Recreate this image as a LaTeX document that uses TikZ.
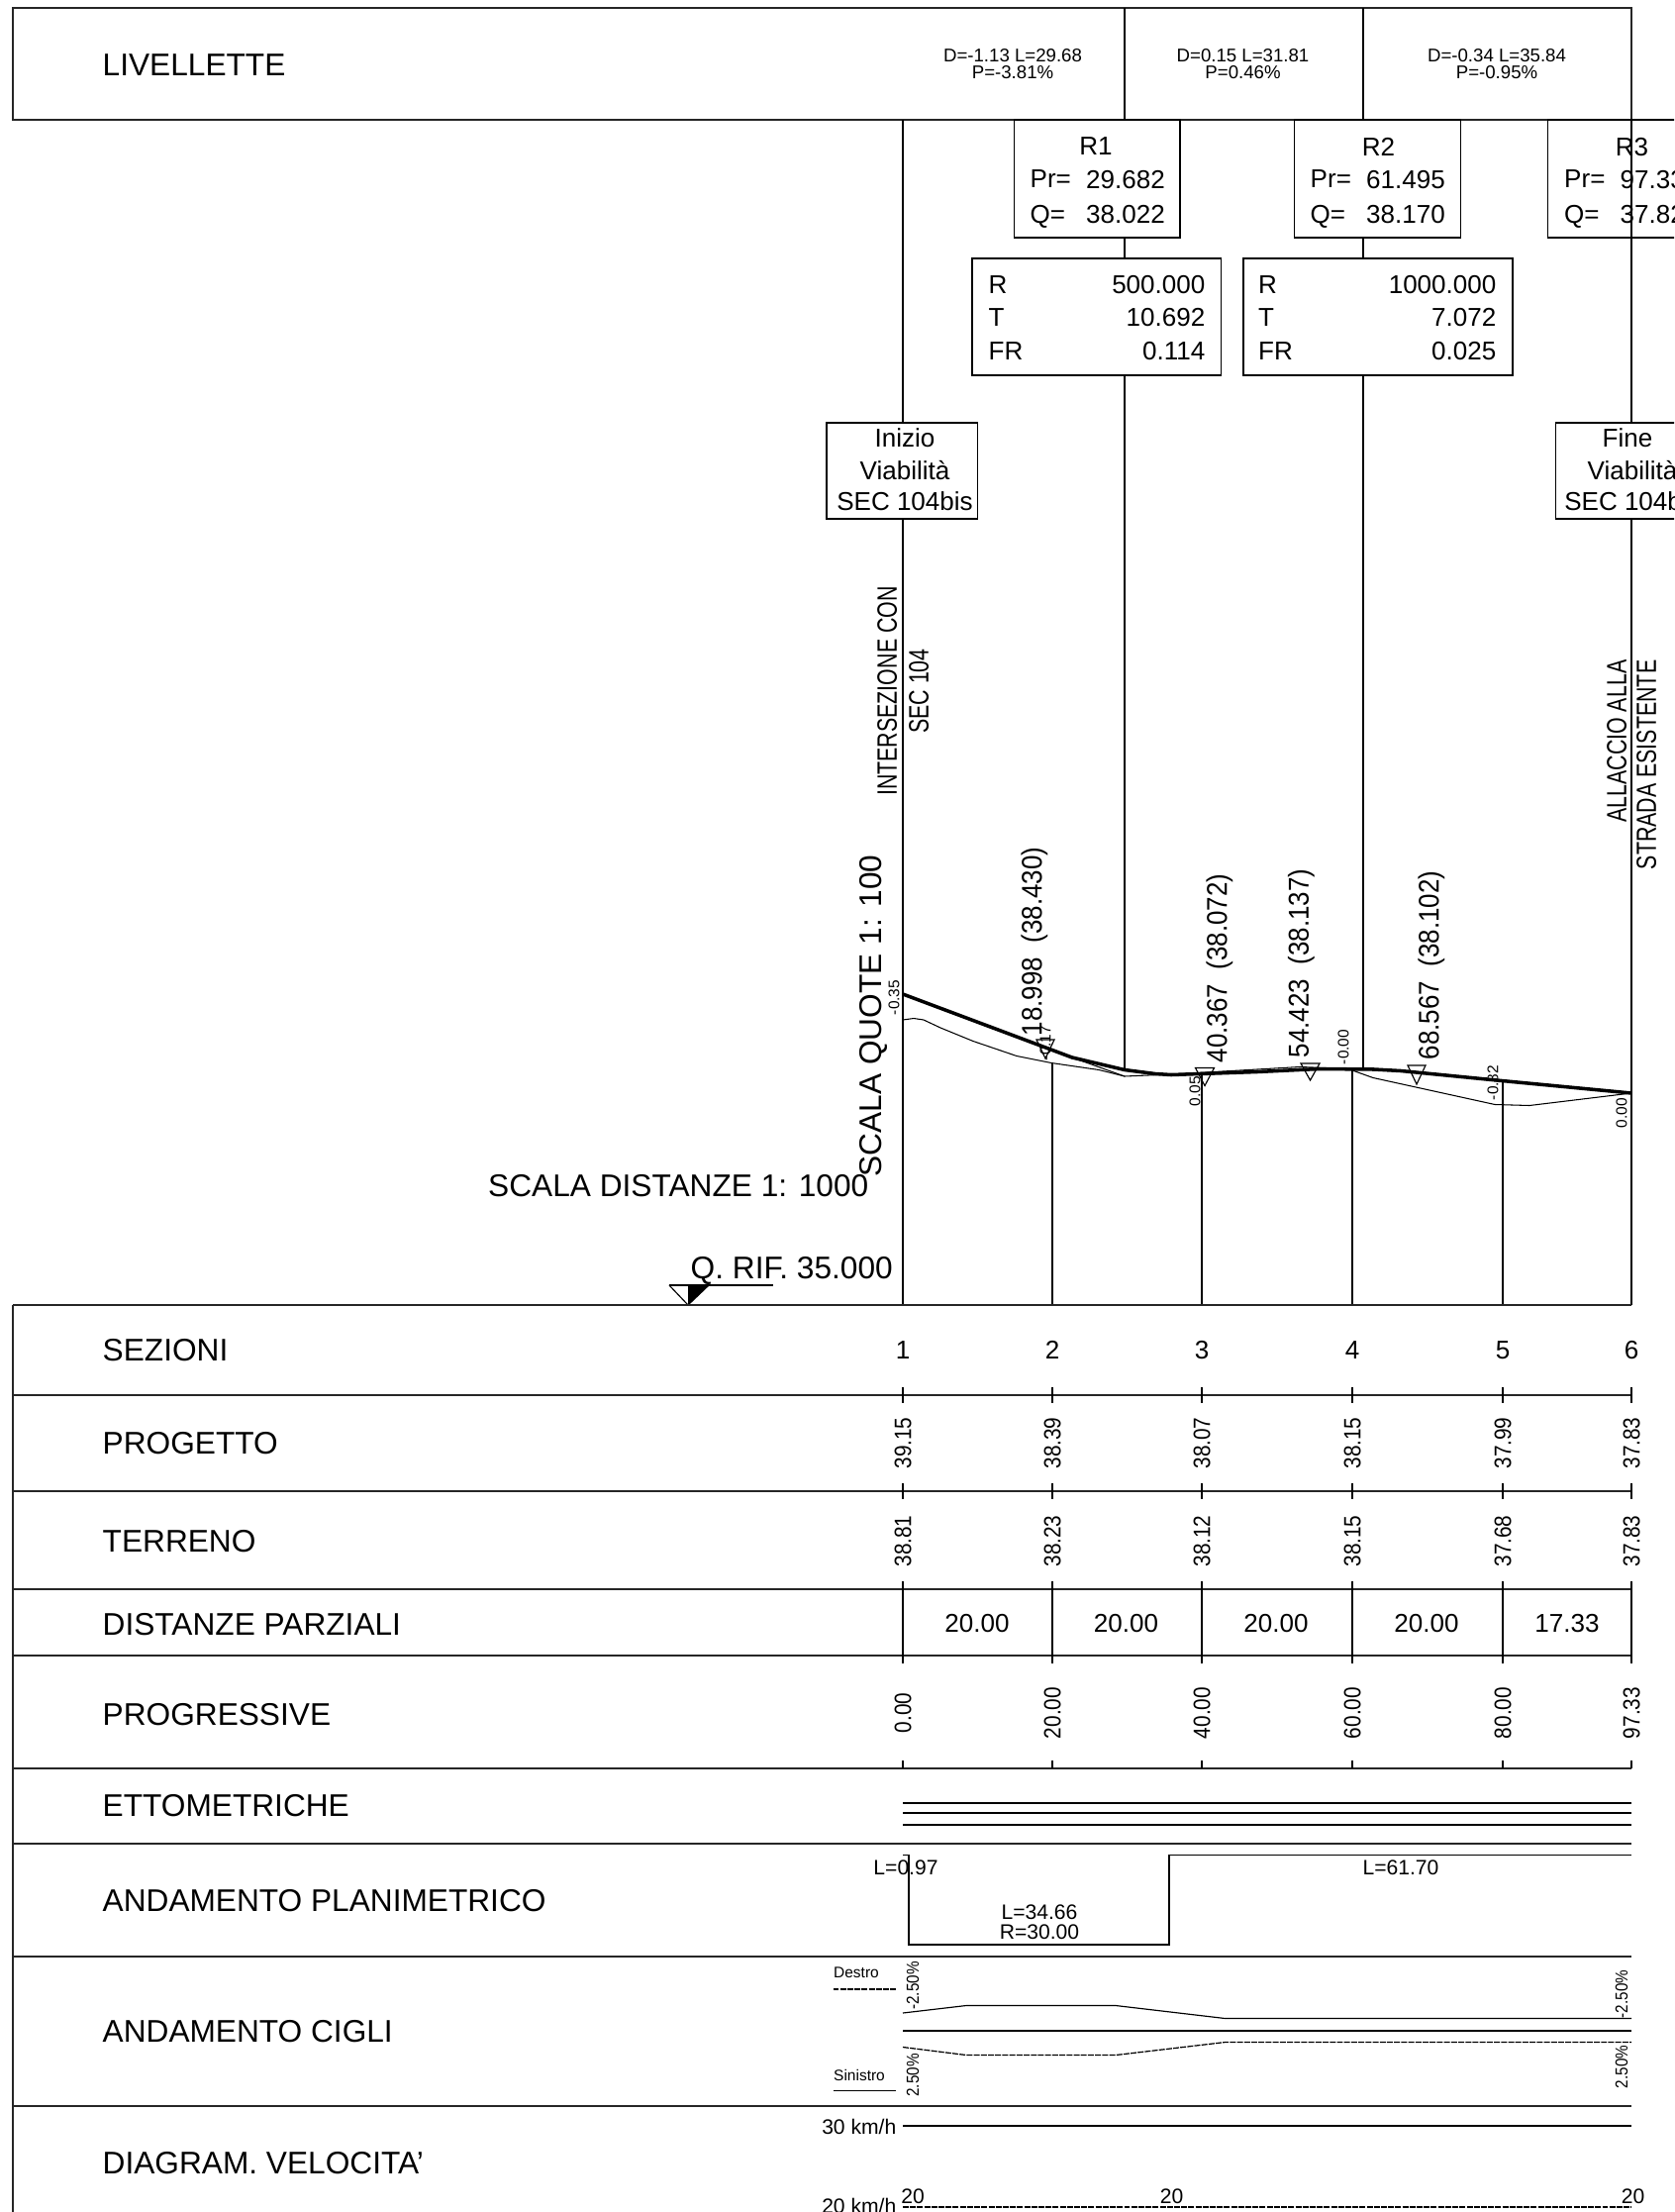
\documentclass[tikz,border=0pt]{standalone}
\usepackage{fontspec}
\setmainfont{Liberation Sans}
\newfontfamily\notefont[FakeStretch=0.76]{Liberation Sans}
\newfontfamily\pkfont[FakeStretch=0.9]{Liberation Sans}
\newfontfamily\valfont[FakeStretch=0.87]{Liberation Sans}
\newcommand{\sizebig}{\fontsize{9}{10}\selectfont}
\newcommand{\sizebox}{\fontsize{7.4}{8}\selectfont}
\newcommand{\sizeval}{\fontsize{6}{7}\selectfont}
\newcommand{\sizelev}{\fontsize{5.3}{6}\selectfont}
\newcommand{\sizetiny}{\fontsize{4.4}{5}\selectfont}

\begin{document}
\begin{tikzpicture}[
        x=0.01cm, y=-0.01cm,
        every node/.style={inner sep=0pt, text depth=0pt},
        thin line/.style={line width=0.33pt},
        rule line/.style={line width=0.5pt, black!85},
        profile line/.style={line width=1pt},
        ground line/.style={line width=0.3pt},
        fine dash/.style={line width=0.35pt, dash pattern=on 1.7pt off 0.35pt},
        rowlabel/.style={anchor=west, font=\sizebig},
        boxtext/.style={font=\sizebox},
        boxleft/.style={anchor=west, font=\sizebox},
        boxright/.style={anchor=east, font=\sizebox},
        levtext/.style={font=\sizelev},
        vertval/.style={rotate=90, font=\valfont\fontsize{6.8}{7}\selectfont},
        vertnote/.style={rotate=90, font=\notefont\fontsize{8}{9}\selectfont},
        vertbox/.style={rotate=90, anchor=east, font=\pkfont\fontsize{8.2}{9}\selectfont},
        vertsmall/.style={rotate=90, font=\sizetiny},
        vertperc/.style={rotate=90, font=\valfont\fontsize{5}{6}\selectfont},
        smalltext/.style={font=\sizeval}
    ]
        \useasboundingbox (0,0) rectangle (1691,2234);
        \clip (0,0) rectangle (1691,2234);

        % Section positions
        \coordinate (s1) at (912, 1318);
        \coordinate (s2) at (1063, 1318);
        \coordinate (s3) at (1214, 1318);
        \coordinate (s4) at (1366, 1318);
        \coordinate (s5) at (1518, 1318);
        \coordinate (s6) at (1648, 1318);

        % Header row
        \draw[rule line] (13, 8) rectangle (1648, 121);
        \draw[rule line] (1648, 121) -- (1691, 121);
        \draw[thin line] (1136, 8) -- (1136, 121);
        \draw[thin line] (1377, 8) -- (1377, 121);
        \node[rowlabel] (livellette) at (103, 66) {LIVELLETTE};

        \node[levtext] (d1) at (1023, 56) {D=-1.13 L=29.68};
        \node[levtext] (p1) at (1023, 73) {P=-3.81\%};
        \node[levtext] (d2) at (1255.5, 56) {D=0.15 L=31.81};
        \node[levtext] (p2) at (1255.5, 73) {P=0.46\%};
        \node[levtext] (d3) at (1512, 56) {D=-0.34 L=35.84};
        \node[levtext] (p3) at (1512, 73) {P=-0.95\%};

        % Verticals of the profile
        \draw[thin line] (912, 121) -- (912, 427);
        \draw[thin line] (912, 524) -- (s1);
        \draw[thin line] (1136, 240) -- (1136, 261);
        \draw[thin line] (1136, 379) -- (1136, 1081);
        \draw[thin line] (1377, 240) -- (1377, 261);
        \draw[thin line] (1377, 379) -- (1377, 1079);
        \draw[thin line] (1648, 121) -- (1648, 427);
        \draw[thin line] (1648, 524) -- (s6);
        \draw[thin line] (1063, 1074) -- (s2);
        \draw[thin line] (1214, 1086) -- (s3);
        \draw[thin line] (1366, 1081) -- (s4);
        \draw[thin line] (1518, 1092) -- (s5);

        % Vertex boxes
        \draw[thin line] (1024.5, 121) rectangle (1192, 240);
        \node[boxtext] (r1) at (1107, 148) {R1};
        \node[boxleft] (r1pr) at (1040, 181) {Pr=};
        \node[boxleft] (r1prv) at (1096.5, 181) {29.682};
        \node[boxleft] (r1q) at (1040, 216) {Q=};
        \node[boxleft] (r1qv) at (1096.5, 216) {38.022};

        \draw[thin line] (1307.5, 121) rectangle (1475.5, 240);
        \node[boxtext] (r2) at (1392.5, 148) {R2};
        \node[boxleft] (r2pr) at (1323, 181) {Pr=};
        \node[boxleft] (r2prv) at (1379.5, 181) {61.495};
        \node[boxleft] (r2q) at (1323, 216) {Q=};
        \node[boxleft] (r2qv) at (1379.5, 216) {38.170};

        \draw[thin line] (1563.5, 121) rectangle (1720, 240);
        \node[boxtext] (r3) at (1648.5, 148) {R3};
        \node[boxleft] (r3pr) at (1579.5, 181) {Pr=};
        \node[boxleft] (r3prv) at (1636, 181) {97.33};
        \node[boxleft] (r3q) at (1579.5, 216) {Q=};
        \node[boxleft] (r3qv) at (1636, 216) {37.82};

        % Curve data boxes
        \draw[thin line] (982, 261) rectangle (1233.5, 379);
        \node[boxleft] (c1r) at (998, 287.5) {R};
        \node[boxleft] (c1t) at (998, 320.5) {T};
        \node[boxleft] (c1f) at (998, 354.5) {FR};
        \node[boxright] (c1rv) at (1218, 287.5) {500.000};
        \node[boxright] (c1tv) at (1218, 320.5) {10.692};
        \node[boxright] (c1fv) at (1218, 354.5) {0.114};

        \draw[thin line] (1256, 261) rectangle (1528, 379);
        \node[boxleft] (c2r) at (1270.5, 287.5) {R};
        \node[boxleft] (c2t) at (1270.5, 320.5) {T};
        \node[boxleft] (c2f) at (1270.5, 354.5) {FR};
        \node[boxright] (c2rv) at (1512, 287.5) {1000.000};
        \node[boxright] (c2tv) at (1512, 320.5) {7.072};
        \node[boxright] (c2fv) at (1512, 354.5) {0.025};

        % Start and end boxes
        \draw[thin line] (835, 427) rectangle (987.5, 524);
        \node[boxtext] (ini1) at (914, 442) {Inizio};
        \node[boxtext] (ini2) at (914, 474.5) {Viabilità};
        \node[boxtext] (ini3) at (914, 506.5) {SEC 104bis};

        \draw[thin line] (1571.5, 427) rectangle (1724, 524);
        \node[boxtext] (fin1) at (1644, 442) {Fine};
        \node[boxtext] (fin2) at (1649, 474.5) {Viabilità};
        \node[boxtext] (fin3) at (1649, 506.5) {SEC 104bis};

        % Notes along the verticals
        \node[vertnote] (nota1) at (896, 698) {INTERSEZIONE CON};
        \node[vertnote] (nota2) at (928, 698) {SEC 104};
        \node[vertnote, anchor=east] (nota3) at (1633, 666) {ALLACCIO ALLA};
        \node[vertnote, anchor=east] (nota4) at (1663, 666) {STRADA ESISTENTE};

        % Scales and datum
        \node[font=\sizebig, rotate=90] (scalaq) at (879, 1026) {SCALA QUOTE 1: 100};
        \node[font=\sizebig, anchor=east] (scalad) at (878, 1197) {SCALA DISTANZE 1: 1000};
        \node[font=\sizebig, anchor=base west] (qrif) at (697, 1291) {Q. RIF. 35.000};
        \draw[thin line] (676, 1298) -- (781, 1298);
        \draw[thin line] (676, 1298) -- (695, 1318) -- (716, 1298);
        \fill (695, 1298) -- (716, 1298) -- (695, 1318) -- cycle;

        % Ground line
        \draw[ground line] (912, 1030) -- (923, 1028.5) -- (933, 1030) -- (950, 1038) -- (983, 1051.5)
            -- (1027, 1066.5) -- (1062, 1073.5) -- (1110, 1080.5) -- (1136, 1087) -- (1183, 1085) -- (1270, 1080)
            -- (1313, 1077.5) -- (1365, 1079.5) -- (1366, 1081) -- (1387, 1088.5) -- (1510, 1115.5) -- (1545, 1116.5)
            -- (1648, 1104);
        \draw[ground line] (1083, 1068) -- (1136, 1087);

        % Project line
        \draw[profile line] (912, 1004) -- (1083, 1068) -- (1136, 1080.5) -- (1167, 1084.5) -- (1183, 1085.5)
            -- (1270, 1082.5) -- (1333, 1079.5) -- (1388, 1080) -- (1415, 1081.5) -- (1517, 1091.5) -- (1648, 1104);

        % Markers on the profile
        \foreach \n/\x/\y/\w/\h in {a/1056/1050/9/19, b/1217/1078.5/9.5/18, c/1323.5/1074/9.5/17, d/1431/1076/9/19}{
            \draw[thin line] (\x-\w, \y) -- (\x+\w, \y) -- (\x, \y+\h) -- cycle;
        }
        \node[vertbox] (pk1) at (1042, 855) {18.998\ \ (38.430)};
        \node[vertbox] (pk2) at (1229, 882) {40.367\ \ (38.072)};
        \node[vertbox] (pk3) at (1311.5, 877) {54.423\ \ (38.137)};
        \node[vertbox] (pk4) at (1443, 879) {68.567\ \ (38.102)};

        \node[vertsmall] (dq1) at (903, 1007.5) {-0.35};
        \node[vertsmall] (dq2) at (1056, 1053.5) {-0.17};
        \node[vertsmall] (dq3) at (1207, 1102) {0.05};
        \node[vertsmall] (dq4) at (1357, 1057.5) {-0.00};
        \node[vertsmall] (dq5) at (1508, 1093.5) {-0.82};
        \node[vertsmall] (dq6) at (1638, 1124) {0.00};

        % Table frame and rules
        \draw[rule line] (13, 1318) -- (s6);
        \draw[rule line] (13, 1318) -- (13, 2240);
        \foreach \y in {1409, 1506, 1605, 1672, 1786, 1862, 1976, 2127}{
            \draw[rule line] (13, \y) -- (1648, \y);
        }

        % Row titles
        \node[rowlabel] (sezioni) at (103, 1363) {SEZIONI};
        \node[rowlabel] (progetto) at (103, 1457) {PROGETTO};
        \node[rowlabel] (terreno) at (103, 1556) {TERRENO};
        \node[rowlabel] (parziali) at (103, 1640) {DISTANZE PARZIALI};
        \node[rowlabel] (progressive) at (103, 1731) {PROGRESSIVE};
        \node[rowlabel] (ettometriche) at (103, 1823.5) {ETTOMETRICHE};
        \node[rowlabel] (planimetrico) at (103, 1919) {ANDAMENTO PLANIMETRICO};
        \node[rowlabel] (cigli) at (103, 2051.5) {ANDAMENTO CIGLI};
        \node[rowlabel] (velocita) at (103, 2184) {DIAGRAM. VELOCITA'};

        % Values per section
        \foreach \x/\n/\a/\b/\c in {912/1/39.15/38.81/0.00, 1063/2/38.39/38.23/20.00, 1214/3/38.07/38.12/40.00,
                1366/4/38.15/38.15/60.00, 1518/5/37.99/37.68/80.00, 1648/6/37.83/37.83/97.33}{
            \node[boxtext] (sez\n) at (\x, 1363.5) {\n};
            \node[vertval] (prog\n) at (\x, 1457.5) {\a};
            \node[vertval] (terr\n) at (\x, 1556.5) {\b};
            \node[vertval] (dist\n) at (\x, 1730) {\c};
            \draw[thin line] (\x, 1401) -- (\x, 1417);
            \draw[thin line] (\x, 1498) -- (\x, 1514);
            \draw[thin line] (\x, 1597) -- (\x, 1680);
            \draw[thin line] (\x, 1778) -- (\x, 1786);
        }
        \foreach \x/\d [count=\i] in {987/20.00, 1137.5/20.00, 1289/20.00, 1441/20.00, 1583/17.33}{
            \node[boxtext] (parz\i) at (\x, 1639) {\d};
        }

        % Ettometriche
        \foreach \y in {1821, 1831, 1843}{
            \draw[thin line] (912, \y) -- (1648, \y);
        }

        % Planimetria
        \draw[thin line] (912, 1873.5) -- (918, 1873.5) -- (918, 1964) -- (1181, 1964) -- (1181, 1873.5) -- (1648, 1873.5);
        \node[smalltext] (lr1) at (915, 1886.5) {L=0.97};
        \node[smalltext] (lr2) at (1050, 1931.5) {L=34.66};
        \node[smalltext] (rr2) at (1050, 1951.5) {R=30.00};
        \node[smalltext] (lr3) at (1415, 1886.5) {L=61.70};

        % Cigli
        \draw[thin line] (912, 2033) -- (976, 2025.5) -- (1127, 2025.5) -- (1237.5, 2038.5) -- (1648, 2038.5);
        \draw[thin line] (912, 2051) -- (1648, 2051);
        \draw[fine dash] (912, 2067.5) -- (976, 2075.5) -- (1127, 2075.5) -- (1237.5, 2062.5) -- (1648, 2062.5);
        \node[vertperc] (cd1) at (922, 2005.5) {-2.50\%};
        \node[vertperc] (cd2) at (1638, 2014) {-2.50\%};
        \node[vertperc] (cs1) at (922, 2096) {2.50\%};
        \node[vertperc] (cs2) at (1638, 2087.5) {2.50\%};
        \node[font=\sizetiny, anchor=west] (destro) at (841.5, 1992.5) {Destro};
        \draw[fine dash] (841.5, 2009) -- (905, 2009);
        \node[font=\sizetiny, anchor=west] (sinistro) at (841.5, 2095.5) {Sinistro};
        \draw[thin line] (841.5, 2111.5) -- (905, 2111.5);

        % Velocita
        \node[smalltext, anchor=east] (v30) at (906, 2148) {30 km/h};
        \draw[thin line] (912, 2147) -- (1648, 2147);
        \node[smalltext, anchor=east] (v20) at (906, 2228) {20 km/h};
        \draw[fine dash] (912, 2229) -- (1648, 2229);
        \node[smalltext] (va) at (922, 2218) {20};
        \node[smalltext] (vb) at (1183.5, 2218) {20};
        \node[smalltext] (vc) at (1649.5, 2218) {20};

    \end{tikzpicture}
\end{document}
